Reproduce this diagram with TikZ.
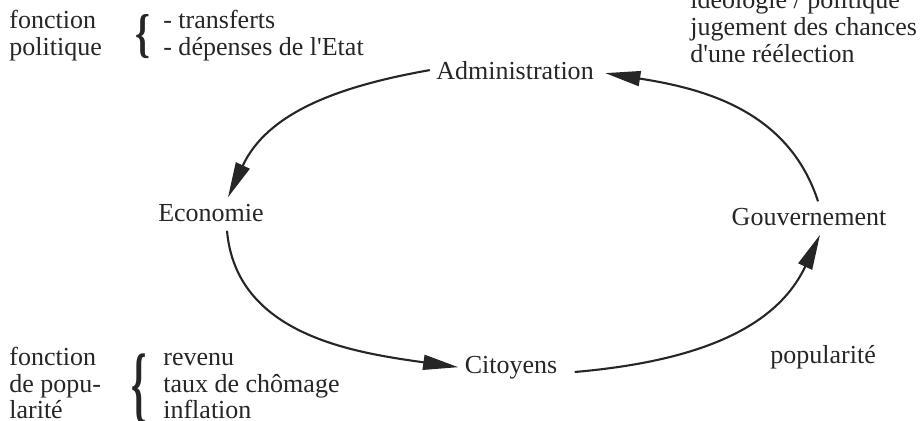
\documentclass[tikz,border=0pt]{standalone}
\usepackage{fontspec}
\setmainfont{Liberation Serif}
\usetikzlibrary{arrows.meta,calc}
\definecolor{ink}{HTML}{262626}
\begin{document}
\begin{tikzpicture}[x=0.02cm,y=-0.02cm,
  every node/.style={text=ink,font=\fontsize{14.8}{16}\selectfont,inner sep=3.5pt},
  note/.style={anchor=base west,inner sep=0pt},
  actor/.style={anchor=base},
  curly/.style={inner sep=0pt},
  flow/.style={draw=ink,line width=1.2pt,
    -{Triangle[length=20pt,width=8.5pt]}}]
% page frame (texts at the top edge are cut by it)
\clip (0,0) rectangle (920,420);

% the four actors of the cycle
\node[actor] (adm)  at (515,79)  {Administration};
\node[actor] (eco)  at (211,221) {Economie};
\node[actor] (gouv) at (809,225) {Gouvernement};
\node[actor] (cit)  at (511,373) {Citoyens};

% political function
\node[note] (fp1) at (9,28) {fonction};
\node[note] (fp2) at (9,55) {politique};
\node[curly] (brtop) at (143,37) {\scalebox{1.45}[2.05]{\bfseries\{}};
\node[note] (tr)  at (163,28) {- transferts};
\node[note] (dep) at (163,55) {- dépenses de l\textquotesingle Etat};

% government motives
\node[note] (ideo) at (690,8)  {idéologie / politique};
\node[note] (jug)  at (690,35) {jugement des chances};
\node[note] (reel) at (690,62) {d\textquotesingle une réélection};

% popularity function
\node[note] (fq1) at (9,365) {fonction};
\node[note] (fq2) at (9,392) {de popu-};
\node[note] (fq3) at (9,418) {larité};
\node[curly] (brbot) at (139,389) {\scalebox{1.5}[3.25]{\bfseries\{}};
\node[note] (rev) at (163,365) {revenu};
\node[note] (cho) at (163,392) {taux de chômage};
\node[note] (inf) at (163,418) {inflation};

\node[note] (pop) at (770,363) {popularité};

% the cycle
\draw[flow] (adm.west) to[out=190,in=65] ($(eco.north)+(17,0)$);
\draw[flow] ($(eco.south)+(16,3)$) to[out=-85,in=172] (cit.west);
\draw[flow] ($(cit.base east)+(11,-1)$) to[out=5,in=245] ($(gouv.south)+(11,3)$);
\draw[flow] ($(gouv.north)+(9,0)$) to[out=108,in=-9] ($(adm.east)+(5,3)$);
\end{tikzpicture}
\end{document}
